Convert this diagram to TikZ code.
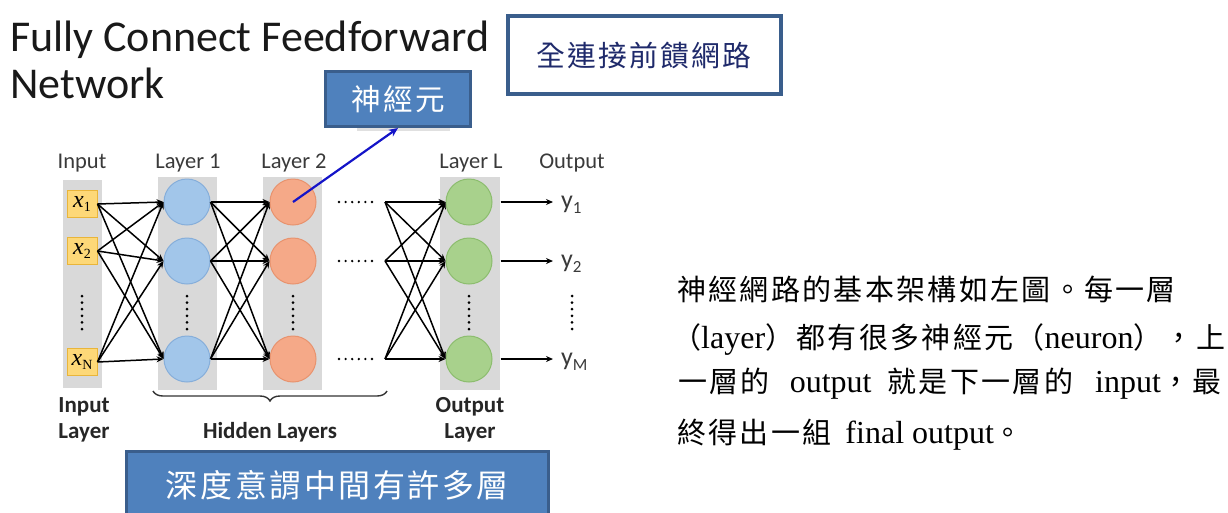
\documentclass[tikz,border=0pt]{standalone}
\usepackage{fontspec}
\setmainfont{Liberation Serif}
\newfontfamily\carlito{Carlito}
\newfontfamily\cjkw[LetterSpace=8]{Noto Sans CJK TC}
\usetikzlibrary{arrows.meta,decorations.pathreplacing}

\definecolor{boxblue}{HTML}{4F81BD}
\definecolor{boxedge}{HTML}{3A5E8C}
\definecolor{navy}{HTML}{1F2A6B}
\definecolor{colgray}{HTML}{D9D9D9}
\definecolor{inyellow}{HTML}{FDD878}
\definecolor{inedge}{HTML}{E9B53A}
\definecolor{hafill}{HTML}{A2C6EA}
\definecolor{haedge}{HTML}{86AEDA}
\definecolor{hbfill}{HTML}{F5A988}
\definecolor{hbedge}{HTML}{E8936E}
\definecolor{outfill}{HTML}{A8D18C}
\definecolor{outedge}{HTML}{8CBD6E}
\definecolor{labelgray}{HTML}{3A3A3A}
\definecolor{pointer}{HTML}{1414C8}

\newcommand\fsz[1]{\fontsize{#1}{#1}\selectfont}
\newcommand\lat[1]{{\rmfamily\fsz{32}#1}}
\newcommand\xin[1]{{\fsz{24}\itshape x}{\fsz{14}\raisebox{-4pt}{#1}}}
\newcommand\yout[1]{{\fsz{26}y}{\fsz{17}\raisebox{-5pt}{#1}}}

\begin{document}
\begin{tikzpicture}[x=1pt,y=-1pt,
  column/.style={fill=colgray},
  inbox/.style={draw=inedge, fill=inyellow, line width=1pt, minimum width=30pt,
    minimum height=27pt, inner sep=0pt},
  neuron/.style={circle, minimum size=46pt, inner sep=0pt, line width=1pt},
  link/.style={line width=1.5pt, -{Stealth[length=7pt,width=6pt]}},
  vdots/.style={line width=3pt, line cap=round, dash pattern=on 0pt off 6.6pt},
  hdots/.style={line width=2.6pt, line cap=round, dash pattern=on 0pt off 6.6pt},
  lbl/.style={font=\carlito\fsz{22.5}, text=labelgray, inner sep=0pt, anchor=base},
  blbl/.style={font=\carlito\bfseries\fsz{23}, text=black!85, inner sep=0pt, anchor=base},
  callout/.style={draw=boxedge, fill=boxblue, line width=3pt, text=white, inner sep=0pt},
  para/.style={anchor=base west, inner sep=0pt, font=\cjkw\fsz{29}, text=black}
]
\useasboundingbox (0,0) rectangle (1228,512);

% title
\node[anchor=base west, inner sep=0pt, font=\carlito\fsz{44}, text=black!90] (title1) at (10,51) {Fully Connect Feedforward};
\node[anchor=base west, inner sep=0pt, font=\carlito\fsz{44}, text=black!90] (title2) at (10,98) {Network};

% caption boxes
\node[draw=boxedge, line width=4pt, fill=white, minimum width=273pt, minimum height=78pt,
  inner sep=0pt, text=navy, font=\cjkw\fsz{28.8}] (fcff) at (644,55) {全連接前饋網路};
\fill[black!12] (357,127) rectangle (450,131);
\node[callout, minimum width=145pt, minimum height=55pt, font=\cjkw\fsz{29.6}] (neuronbox) at (398,99) {神經元};
\node[callout, minimum width=422pt, minimum height=67pt, font=\cjkw\fsz{32}] (deepbox) at (337.5,485) {深度意謂中間有許多層};

% gray layer columns
\fill[column] (63,180) rectangle (102,388);
\fill[column] (158,177) rectangle (217,390);
\fill[column] (263,177) rectangle (322,390);
\fill[column] (440,177) rectangle (500,390);

% input units
\node[inbox] (x1) at (82,204) {\xin{1}};
\node[inbox] (x2) at (82,251) {\xin{2}};
\node[inbox] (x3) at (82,362) {\xin{N}};

% neurons of the hidden and output layers
\foreach \r/\yy in {1/202, 2/261, 3/359} {
  \node[neuron, fill=hafill, draw=haedge] (a\r) at (187,\yy) {};
  \node[neuron, fill=hbfill, draw=hbedge] (b\r) at (293,\yy) {};
  \node[neuron, fill=outfill, draw=outedge] (o\r) at (469,\yy) {};
  \coordinate (d\r) at (385,\yy);
  \coordinate (t\r) at (553,\yy);
  \draw[hdots] (339,\yy) -- (374,\yy);
}

% full connections
\foreach \i in {1,2,3} {
  \foreach \j in {1,2,3} {
    \draw[link] (x\i.east) -- (a\j.west);
    \draw[link] (a\i.east) -- (b\j.west);
    \draw[link] (d\i) -- (o\j.west);
  }
  \draw[link, shorten <=8pt] (o\i.east) -- (t\i);
}

% outputs
\node[anchor=base west, inner sep=0pt, font=\carlito, text=labelgray] (y1) at (561,208) {\yout{1}};
\node[anchor=base west, inner sep=0pt, font=\carlito, text=labelgray] (y2) at (561,267) {\yout{2}};
\node[anchor=base west, inner sep=0pt, font=\carlito, text=labelgray] (y3) at (561,365) {\yout{M}};

% vertical ellipses
\foreach \xx in {82,187,293,469,572} {
  \draw[vdots] (\xx,296) -- (\xx,330);
}

% layer captions
\node[lbl] (lin) at (82,168) {Input};
\node[lbl] (la) at (188,168) {Layer 1};
\node[lbl] (lb) at (294,168) {Layer 2};
\node[lbl] (lL) at (471,168) {Layer L};
\node[lbl] (lout) at (572,168) {Output};

\node[blbl] (bin1) at (84,412) {Input};
\node[blbl] (bin2) at (84,438) {Layer};
\node[blbl] (bhid) at (270,438) {Hidden Layers};
\node[blbl] (bout1) at (470,412) {Output};
\node[blbl] (bout2) at (470,438) {Layer};

\draw[decorate, decoration={brace, mirror, amplitude=10pt}, line width=1.4pt, black!80]
  (153,391) -- (387,391);

% pointer to a neuron
\draw[pointer, line width=2.2pt, -{Stealth[length=9pt,width=8pt]}] (b1.center) -- (neuronbox.south);

% explanation
\node[para] (p1) at (677,300) {神經網路的基本架構如左圖。每一層};
\node[para] (p2) at (672,348) {（\lat{layer}）都有很多神經元（\lat{neuron}），上};
\node[para] (p3) at (678,392) {一層的\lat{\hspace{20pt}output\hspace{16pt}}就是下一層的\lat{\hspace{22pt}input}，最};
\node[para] (p4) at (677,443) {終得出一組\lat{\hspace{14pt}final output}。};
\end{tikzpicture}
\end{document}
